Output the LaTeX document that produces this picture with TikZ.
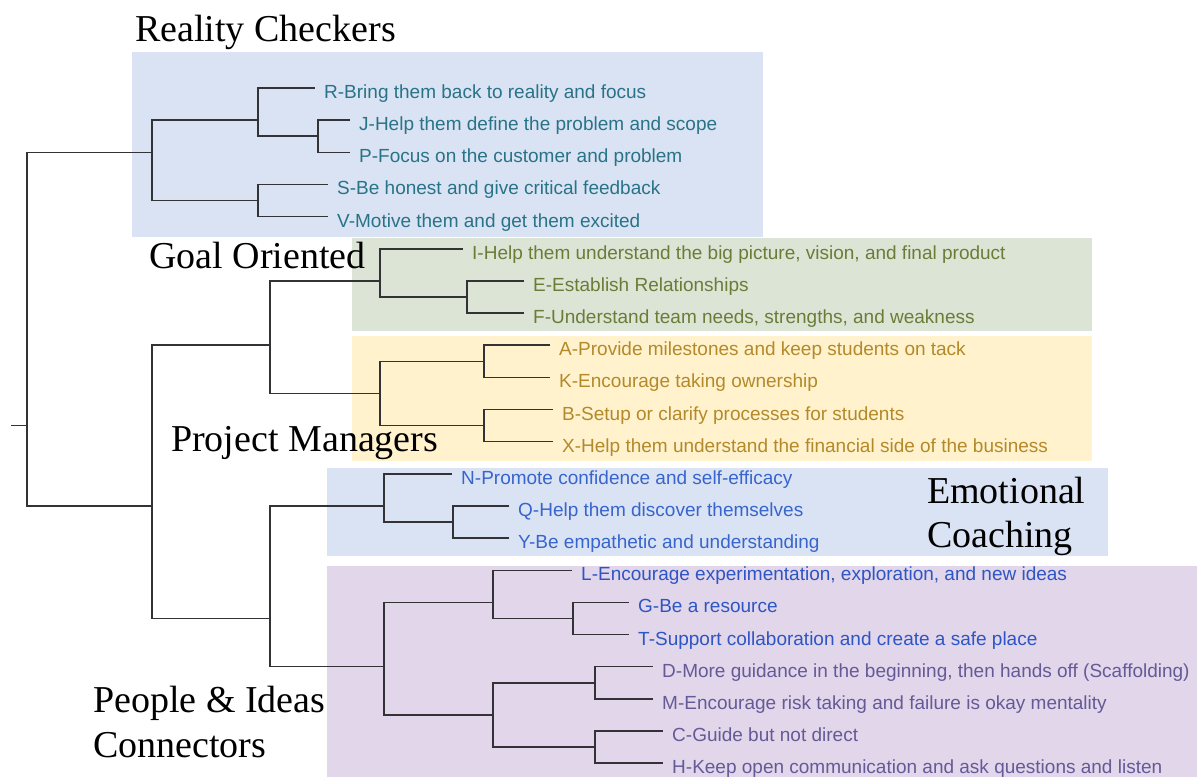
\documentclass[tikz,border=0pt]{standalone}
\usepackage{fontspec}
\setmainfont{Liberation Serif}
\newfontfamily\arialf{Liberation Sans}
\definecolor{bgblue}{RGB}{218,227,243}
\definecolor{bggreen}{RGB}{220,228,214}
\definecolor{bgyellow}{RGB}{255,242,204}
\definecolor{bgpurple}{RGB}{226,214,235}
\definecolor{cteal}{RGB}{40,115,135}
\definecolor{colive}{RGB}{105,125,55}
\definecolor{cochre}{RGB}{180,137,42}
\definecolor{cblue}{RGB}{55,100,205}
\definecolor{cblueb}{RGB}{45,85,195}
\definecolor{cpurp}{RGB}{100,90,150}
\definecolor{treeline}{RGB}{50,50,55}
\newcommand\leafnode[5]{%
  \coordinate (e#1) at (#2,#3);
  \node[lab,text=#4,anchor=base west] (#1) at (#2+9,#3+10.5) {#5};}
\begin{document}
\begin{tikzpicture}[x=1pt,y=-1pt,
  lab/.style={font=\arialf\fontsize{19}{22}\selectfont,inner sep=0pt},
  head/.style={font=\fontsize{38}{44}\selectfont,inner sep=0pt,anchor=base west},
  tree/.style={draw=treeline,line width=1.5pt}]
\useasboundingbox (0,0) rectangle (1197,777);
% backgrounds
\fill[bgblue] (132,52) rectangle (763,237);
\fill[bggreen] (352,238) rectangle (1092,331);
\fill[bgyellow] (352,336) rectangle (1092,461);
\fill[bgblue] (327,468) rectangle (1108,556);
\fill[bgpurple] (327,566) rectangle (1197,777);
% headings
\node[head] (hRC) at (135,41) {Reality Checkers};
\node[head] (hGO) at (149,268) {Goal Oriented};
\node[head] (hPM) at (171,451) {Project Managers};
\node[head] (hEC1) at (927,503) {Emotional};
\node[head] (hEC2) at (927,547) {Coaching};
\node[head] (hPI1) at (93,712) {People \& Ideas};
\node[head] (hPI2) at (93,757) {Connectors};
% leaves
\leafnode{R}{315}{88}{cteal}{R-Bring them back to reality and focus}
\leafnode{J}{350}{120.15}{cteal}{J-Help them define the problem and scope}
\leafnode{P}{350}{152.3}{cteal}{P-Focus on the customer and problem}
\leafnode{S}{328}{184.45}{cteal}{S-Be honest and give critical feedback}
\leafnode{V}{328}{216.6}{cteal}{V-Motive them and get them excited}
\leafnode{I}{463}{248.75}{colive}{I-Help them understand the big picture, vision, and final product}
\leafnode{E}{524}{280.9}{colive}{E-Establish Relationships}
\leafnode{F}{524}{313.05}{colive}{F-Understand team needs, strengths, and weakness}
\leafnode{A}{550}{345.2}{cochre}{A-Provide milestones and keep students on tack}
\leafnode{K}{550}{377.35}{cochre}{K-Encourage taking ownership}
\leafnode{B}{553}{409.5}{cochre}{B-Setup or clarify processes for students}
\leafnode{X}{553}{441.65}{cochre}{X-Help them understand the financial side of the business}
\leafnode{N}{452}{473.8}{cblue}{N-Promote confidence and self-efficacy}
\leafnode{Q}{509}{505.95}{cblue}{Q-Help them discover themselves}
\leafnode{Y}{509}{538.1}{cblue}{Y-Be empathetic and understanding}
\leafnode{L}{572}{570.25}{cblueb}{L-Encourage experimentation, exploration, and new ideas}
\leafnode{G}{629}{602.4}{cblueb}{G-Be a resource}
\leafnode{T}{629}{634.55}{cblueb}{T-Support collaboration and create a safe place}
\leafnode{D}{653}{666.7}{cpurp}{D-More guidance in the beginning, then hands off (Scaffolding)}
\leafnode{M}{653}{698.85}{cpurp}{M-Encourage risk taking and failure is okay mentality}
\leafnode{C}{663}{731}{cpurp}{C-Guide but not direct}
\leafnode{H}{663}{763.15}{cpurp}{H-Keep open communication and ask questions and listen}
% joins
\coordinate (jJP) at (318,136.2);
\coordinate (jRJP) at (258,120.15);
\coordinate (jSV) at (258,200.5);
\coordinate (jRC) at (152,152.3);
\coordinate (jEF) at (467,297);
\coordinate (jIEF) at (380,280.9);
\coordinate (jAK) at (484,361.3);
\coordinate (jBX) at (484,425.6);
\coordinate (jAKBX) at (380,393.4);
\coordinate (jGOPM) at (270,345.2);
\coordinate (jQY) at (453,522);
\coordinate (jNQY) at (384,505.95);
\coordinate (jGT) at (573,618.5);
\coordinate (jLGT) at (493,602.4);
\coordinate (jDM) at (595,682.8);
\coordinate (jCH) at (595,747.1);
\coordinate (jDMCH) at (493,714.9);
\coordinate (jPIC) at (384,666.7);
\coordinate (jECPIC) at (270,618.5);
\coordinate (jLOW) at (152,505.95);
\coordinate (jROOT) at (27,425.6);
\coordinate (stub) at (11,425.6);
% tree
\draw[tree] (jJP) |- (eJ);   \draw[tree] (jJP) |- (eP);
\draw[tree] (jRJP) |- (eR);  \draw[tree] (jRJP) |- (jJP);
\draw[tree] (jSV) |- (eS);   \draw[tree] (jSV) |- (eV);
\draw[tree] (jRC) |- (jRJP); \draw[tree] (jRC) |- (jSV);
\draw[tree] (jEF) |- (eE);   \draw[tree] (jEF) |- (eF);
\draw[tree] (jIEF) |- (eI);  \draw[tree] (jIEF) |- (jEF);
\draw[tree] (jAK) |- (eA);   \draw[tree] (jAK) |- (eK);
\draw[tree] (jBX) |- (eB);   \draw[tree] (jBX) |- (eX);
\draw[tree] (jAKBX) |- (jAK); \draw[tree] (jAKBX) |- (jBX);
\draw[tree] (jGOPM) |- (jIEF); \draw[tree] (jGOPM) |- (jAKBX);
\draw[tree] (jQY) |- (eQ);   \draw[tree] (jQY) |- (eY);
\draw[tree] (jNQY) |- (eN);  \draw[tree] (jNQY) |- (jQY);
\draw[tree] (jGT) |- (eG);   \draw[tree] (jGT) |- (eT);
\draw[tree] (jLGT) |- (eL);  \draw[tree] (jLGT) |- (jGT);
\draw[tree] (jDM) |- (eD);   \draw[tree] (jDM) |- (eM);
\draw[tree] (jCH) |- (eC);   \draw[tree] (jCH) |- (eH);
\draw[tree] (jDMCH) |- (jDM); \draw[tree] (jDMCH) |- (jCH);
\draw[tree] (jPIC) |- (jLGT); \draw[tree] (jPIC) |- (jDMCH);
\draw[tree] (jECPIC) |- (jNQY); \draw[tree] (jECPIC) |- (jPIC);
\draw[tree] (jLOW) |- (jGOPM); \draw[tree] (jLOW) |- (jECPIC);
\draw[tree] (jROOT) |- (jRC); \draw[tree] (jROOT) |- (jLOW);
\draw[tree] (stub) -- (jROOT);
\end{tikzpicture}
\end{document}
